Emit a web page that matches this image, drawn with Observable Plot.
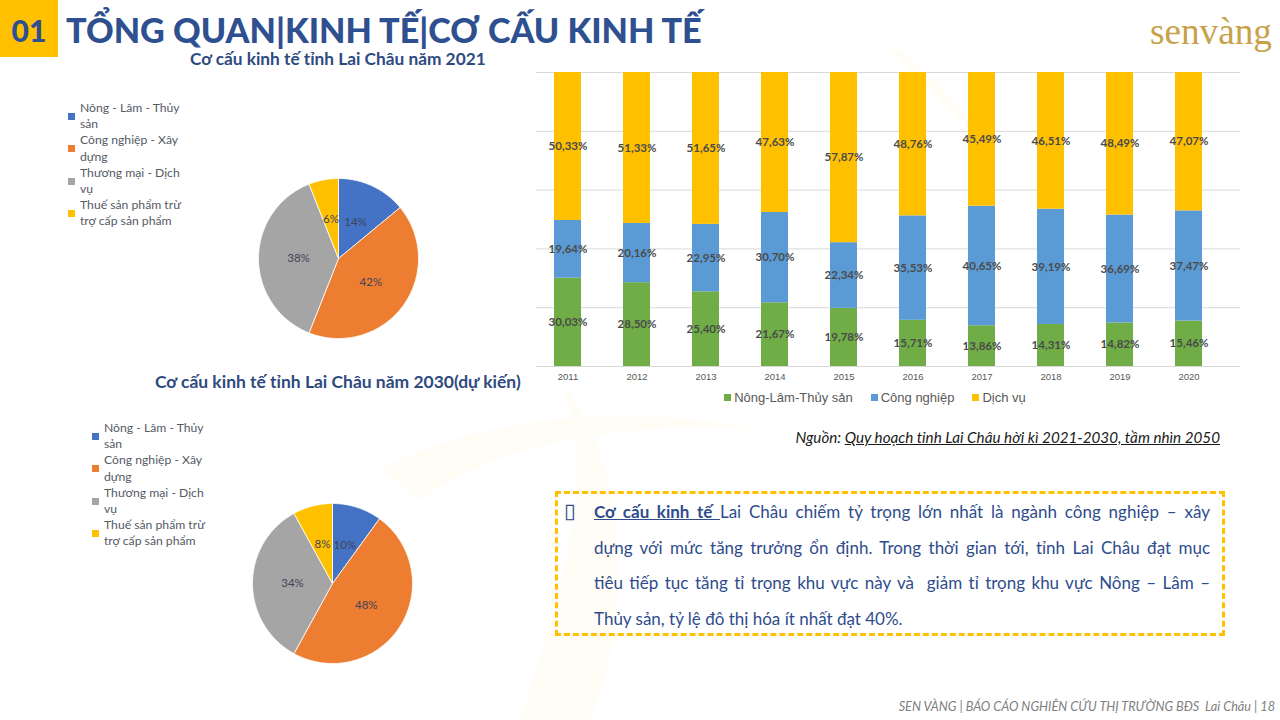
<!DOCTYPE html>
<html><head><meta charset="utf-8">
<script src="https://cdn.jsdelivr.net/npm/d3@7"></script>
<script src="https://cdn.jsdelivr.net/npm/@observablehq/plot@0.6"></script>
<style>
body{margin:0;background:#fff;}
#page{position:relative;width:1280px;height:720px;overflow:hidden;background:#fff;font-family:Lato,"Open Sans",sans-serif;}
.abs{position:absolute;white-space:nowrap;}
.leg{position:absolute;font-family:Lato,sans-serif;font-size:12.2px;line-height:16.2px;color:#555a66;}
.leg .it{position:relative;padding-left:12px;}
.leg .sw{position:absolute;left:0;top:13px;width:7px;height:7px;}
.boxline{text-align:justify;text-align-last:justify;white-space:nowrap;}
</style></head><body><div id="page">
<svg class="abs" style="left:0;top:0" width="1280" height="720">
  <path d="M520,720 C560,600 600,470 560,380 C620,450 640,600 590,720 Z" fill="#fffdf6"/>
  <path d="M380,470 C470,420 620,400 760,430 C640,420 500,440 420,500 Z" fill="#fffdf6"/>
  <path d="M880,40 C920,60 960,100 980,140 C950,110 920,80 880,40 Z" fill="#fffdf6"/>
</svg>
<div class="abs" style="left:0;top:0;width:58px;height:57px;background:#FFC000;"></div>
<div class="abs" style="left:0;top:0;width:58px;height:57px;line-height:60px;text-align:center;font-weight:900;font-size:30px;color:#2E5090;">01</div>
<div id="title" class="abs" style="left:66px;top:0;line-height:60px;font-weight:900;font-size:32px;color:#2E5090;">TỔNG QUAN|KINH TẾ|CƠ CẤU KINH TẾ</div>
<div id="sub1" class="abs" style="left:190px;top:49px;line-height:20px;font-weight:700;font-size:14px;color:#2E4A80;">Cơ cấu kinh tế tỉnh Lai Châu năm 2021</div>
<div id="sub2" class="abs" style="left:155px;top:371px;line-height:22px;font-weight:700;font-size:15px;color:#2E4A80;">Cơ cấu kinh tế tỉnh Lai Châu năm 2030(dự kiến)</div>
<div id="logo" class="abs" style="left:1150px;top:14px;line-height:36px;font-family:'Liberation Serif','DejaVu Serif',serif;font-size:28px;color:#C8A24A;">senvàng</div>
<div id="bars" class="abs" style="left:520px;top:60px;width:725px;height:330px;"></div>
<div id="barleg" class="abs" style="left:575px;top:390px;width:600px;text-align:center;font-family:'Liberation Sans',Arial,sans-serif;font-size:13px;color:#595959;"></div>
<div id="leg1" class="leg" style="left:68px;top:100px;"></div>
<div id="pie1" class="abs" style="left:253px;top:173px;width:170px;height:170px;"></div>
<div id="leg2" class="leg" style="left:92px;top:420px;"></div>
<div id="pie2" class="abs" style="left:247px;top:498px;width:170px;height:170px;"></div>
<div id="source" class="abs" style="right:60px;top:428px;line-height:18px;font-style:italic;font-size:12.5px;color:#1a1a1a;">Nguồn: <u>Quy hoạch tỉnh Lai Châu hời kì 2021-2030, tầm nhìn 2050</u></div>
<div class="abs" style="left:555px;top:491px;width:670px;height:145px;border:3px dashed #FFC000;box-sizing:border-box;white-space:normal;">
  <div style="position:absolute;left:6px;top:0;line-height:34px;font-size:21px;color:#2E4A80;font-family:'DejaVu Sans',sans-serif;">▯</div>
  <div id="boxtext" style="padding:0 12px 0 36px;font-size:17px;line-height:35.7px;color:#2E4C8C;">
    <div class="boxline"><b><u>Cơ cấu kinh tế </u></b>Lai Châu chiếm tỷ trọng lớn nhất là ngành công nghiệp – xây</div>
    <div class="boxline">dựng với mức tăng trưởng ổn định. Trong thời gian tới, tỉnh Lai Châu đạt mục</div>
    <div class="boxline">tiêu tiếp tục tăng tỉ trọng khu vực này và &nbsp;giảm tỉ trọng khu vực Nông – Lâm –</div>
    <div style="white-space:nowrap;">Thủy sản, tỷ lệ đô thị hóa ít nhất đạt 40%.</div>
  </div>
</div>
<div id="footer" class="abs" style="right:5px;top:697px;line-height:18px;font-style:italic;font-size:11.5px;color:#808080;">SEN VÀNG | BÁO CÁO NGHIÊN CỨU THỊ TRƯỜNG BĐS &nbsp;Lai Châu | 18</div>
</div>
<script>
// ---- Data: stacked bar chart (2011-2020) ----
const years = ["2011","2012","2013","2014","2015","2016","2017","2018","2019","2020"];
const seriesNames = ["Nông-Lâm-Thủy sản","Công nghiệp","Dịch vụ"];
const nongLam   = [30.03,28.50,25.40,21.67,19.78,15.71,13.86,14.31,14.82,15.46];
const congNghiep= [19.64,20.16,22.95,30.70,22.34,35.53,40.65,39.19,36.69,37.47];
const dichVu    = [50.33,51.33,51.65,47.63,57.87,48.76,45.49,46.51,48.49,47.07];
const seriesColors = ["#70AD47","#5B9BD5","#FFC000"];
const gridTicks = [0,20,40,60,80,100];

// ---- Data: pie charts ----
const pieCategories = ["Nông - Lâm - Thủy sản","Công nghiệp - Xây dựng","Thương mại - Dịch vụ","Thuế sản phẩm trừ trợ cấp sản phẩm"];
const pieLegendLines = [["Nông - Lâm - Thủy","sản"],["Công nghiệp - Xây","dựng"],["Thương mại - Dịch","vụ"],["Thuế sản phẩm trừ","trợ cấp sản phẩm"]];
const pieColors = ["#4472C4","#ED7D31","#A5A5A5","#FFC000"];
const pie2021 = [14,42,38,6];
const pie2030 = [10,48,34,8];

function fitWidth(id, target){
  const el = document.getElementById(id);
  const w = el.getBoundingClientRect().width;
  const fs = parseFloat(getComputedStyle(el).fontSize);
  el.style.fontSize = (fs*target/w) + "px";
}
fitWidth("title", 636);
fitWidth("sub1", 296);
fitWidth("sub2", 366);
fitWidth("logo", 122);
fitWidth("source", 425);
fitWidth("footer", 377);

// ---- Stacked bars ----
const rows = years.flatMap((yr,i)=>[
  {year:yr, series:seriesNames[0], value:nongLam[i]},
  {year:yr, series:seriesNames[1], value:congNghiep[i]},
  {year:yr, series:seriesNames[2], value:dichVu[i]}
]);
const fmt = v => d3.format(".2f")(v).replace(".", ",") + "%";
const barChart = Plot.plot({
  width:725, height:330, marginTop:12, marginBottom:24, marginLeft:16, marginRight:5,
  style:{background:"transparent", fontFamily:"'Liberation Sans',Arial,sans-serif", fontSize:"9.5px", color:"#595959"},
  x:{domain:years, range:[30,687], paddingInner:0.607, paddingOuter:0, label:null, tickSize:0, tickPadding:7},
  y:{domain:[0,100], axis:null},
  color:{domain:seriesNames, range:seriesColors},
  marks:[
    Plot.ruleY(gridTicks, {stroke:"#d9d9d9", strokeWidth:1}),
    Plot.barY(rows, {x:"year", y:"value", fill:"series", order:seriesNames}),
    Plot.text(rows, Plot.stackY({x:"year", y:"value", z:"series", order:seriesNames,
      text:d=>fmt(d.value), fill:"#4a4a4a", fontSize:11.5, fontWeight:"bold", fontFamily:"Lato,sans-serif"}))
  ]
});
document.getElementById("bars").appendChild(barChart);

// bar legend
const bl = document.getElementById("barleg");
seriesNames.forEach((s,i)=>{
  const it = document.createElement("span");
  it.style.marginRight = i<seriesNames.length-1 ? "18px" : "0";
  it.innerHTML = `<span style="display:inline-block;width:7px;height:7px;background:${seriesColors[i]};margin-right:3px;vertical-align:1px;"></span>${s}`;
  bl.appendChild(it);
});

// ---- Pies ----
function pieChart(values){
  const total = d3.sum(values);
  let acc = 0;
  const polys = [], labels = [];
  values.forEach((v,i)=>{
    const a0 = acc/total*2*Math.PI, a1 = (acc+v)/total*2*Math.PI; acc += v;
    const n = Math.max(2, Math.ceil((a1-a0)/(Math.PI/180)));
    polys.push({cat:pieCategories[i], px:0, py:0});
    for(let k=0;k<=n;k++){ const a=a0+(a1-a0)*k/n; polys.push({cat:pieCategories[i], px:Math.sin(a), py:Math.cos(a)}); }
    polys.push({cat:pieCategories[i], px:0, py:0});
    const am = (a0+a1)/2;
    labels.push({px:0.5*Math.sin(am), py:0.5*Math.cos(am), text:v+"%"});
  });
  return Plot.plot({
    width:170, height:170, margin:5,
    style:{background:"transparent"},
    x:{domain:[-1,1], axis:null}, y:{domain:[-1,1], axis:null},
    color:{domain:pieCategories, range:pieColors},
    marks:[
      Plot.line(polys, {x:"px", y:"py", z:"cat", fill:"cat", stroke:"white", strokeWidth:0.8, curve:"linear"}),
      Plot.text(labels, {x:"px", y:"py", text:"text", fill:"#3f4458", fontSize:11.5, fontFamily:"Lato,sans-serif"})
    ]
  });
}
document.getElementById("pie1").appendChild(pieChart(pie2021));
document.getElementById("pie2").appendChild(pieChart(pie2030));

function legend(id){
  const el = document.getElementById(id);
  pieCategories.forEach((c,i)=>{
    const it = document.createElement("div");
    it.className = "it";
    it.title = c;
    it.innerHTML = `<span class="sw" style="background:${pieColors[i]}"></span>${pieLegendLines[i].join("<br>")}`;
    el.appendChild(it);
  });
}
legend("leg1"); legend("leg2");
</script>
</body></html>
